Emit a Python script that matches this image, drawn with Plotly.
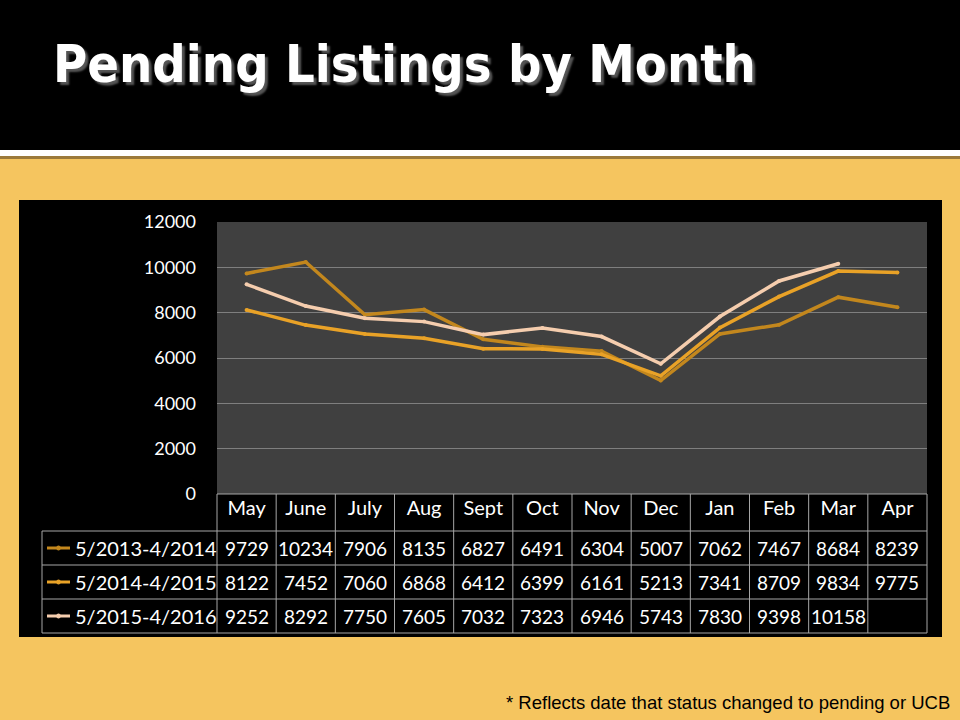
import plotly.graph_objects as go

W, H = 960, 720

months = ["May", "June", "July", "Aug", "Sept", "Oct", "Nov", "Dec", "Jan", "Feb", "Mar", "Apr"]
series_names = ["5/2013-4/2014", "5/2014-4/2015", "5/2015-4/2016"]
vals_2013 = [9729, 10234, 7906, 8135, 6827, 6491, 6304, 5007, 7062, 7467, 8684, 8239]
vals_2014 = [8122, 7452, 7060, 6868, 6412, 6399, 6161, 5213, 7341, 8709, 9834, 9775]
vals_2015 = [9252, 8292, 7750, 7605, 7032, 7323, 6946, 5743, 7830, 9398, 10158, None]
y_ticks = [0, 2000, 4000, 6000, 8000, 10000, 12000]

series = [vals_2013, vals_2014, vals_2015]
colors = ["#C3871D", "#E9A227", "#F5CDAE"]

GOLD = "#F5C55F"
GRID = "#A6A6A6"
FONT = "Lato"
TITLE_FONT = "DejaVu Sans Condensed, DejaVu Sans, sans-serif"


def px(x):
    return x / W


def py(y):
    return 1 - y / H


# plot area in pixels
PL, PR, PT, PB = 217, 927, 222, 494
# table rows (pixels)
row_edges = [494, 531, 565, 599, 633]
LABEL_LEFT = 42

fig = go.Figure()

for name, vals, c in zip(series_names, series, colors):
    fig.add_trace(
        go.Scatter(
            x=months,
            y=vals,
            mode="lines+markers",
            name=name,
            line=dict(color=c, width=3.5),
            marker=dict(color=c, size=4),
            connectgaps=False,
        )
    )

shapes = [
    # slide background
    dict(type="rect", xref="paper", yref="paper", x0=0, x1=1, y0=0, y1=1,
         fillcolor=GOLD, line_width=0, layer="below"),
    dict(type="rect", xref="paper", yref="paper", x0=0, x1=1, y0=py(159), y1=py(155),
         fillcolor="#9C7A3A", line_width=0, layer="below"),
    dict(type="rect", xref="paper", yref="paper", x0=0, x1=1, y0=py(156), y1=py(150),
         fillcolor="white", line_width=0, layer="below"),
    dict(type="rect", xref="paper", yref="paper", x0=0, x1=1, y0=py(150), y1=1,
         fillcolor="black", line_width=0, layer="below"),
    # chart box
    dict(type="rect", xref="paper", yref="paper", x0=px(19), x1=px(942), y0=py(637), y1=py(200),
         fillcolor="black", line_width=0, layer="below"),
    # plot area
    dict(type="rect", xref="x", yref="y", x0=-0.5, x1=11.5, y0=0, y1=12000,
         fillcolor="#404040", line_width=0, layer="below"),
]

# table grid
col_w = (PR - PL) / len(months)
for k in range(len(months) + 1):
    xk = PL + k * col_w
    shapes.append(dict(type="line", xref="paper", yref="paper", x0=px(xk), x1=px(xk),
                       y0=py(row_edges[0]), y1=py(row_edges[-1]),
                       line=dict(color=GRID, width=1)))
shapes.append(dict(type="line", xref="paper", yref="paper", x0=px(LABEL_LEFT), x1=px(LABEL_LEFT),
                   y0=py(row_edges[1]), y1=py(row_edges[-1]), line=dict(color=GRID, width=1)))
shapes.append(dict(type="line", xref="paper", yref="paper", x0=px(PL), x1=px(PR),
                   y0=py(row_edges[0]), y1=py(row_edges[0]), line=dict(color=GRID, width=1)))
for ye in row_edges[1:]:
    shapes.append(dict(type="line", xref="paper", yref="paper", x0=px(LABEL_LEFT), x1=px(PR),
                       y0=py(ye), y1=py(ye), line=dict(color=GRID, width=1)))

annotations = []
for i, (name, vals, c) in enumerate(zip(series_names, series, colors)):
    yc = (row_edges[i + 1] + row_edges[i + 2]) / 2
    # legend key
    shapes.append(dict(type="line", xref="paper", yref="paper", x0=px(47), x1=px(70),
                       y0=py(yc), y1=py(yc), line=dict(color=c, width=3)))
    shapes.append(dict(type="circle", xref="paper", yref="paper", x0=px(56.5), x1=px(60.5),
                       y0=py(yc + 2), y1=py(yc - 2), fillcolor=c, line=dict(color=c, width=1)))
    annotations.append(dict(text=name, xref="paper", yref="paper", x=px(73), y=py(yc),
                            xanchor="left", yanchor="middle", showarrow=False,
                            font=dict(family=FONT, size=20, color="white")))
    for m, v in zip(months, vals):
        if v is None:
            continue
        annotations.append(dict(text=str(v), xref="x", yref="paper", x=m, y=py(yc),
                                xanchor="center", yanchor="middle", showarrow=False,
                                font=dict(family=FONT, size=19, color="white")))

annotations.append(dict(text="<b>Pending Listings by Month</b>", xref="paper", yref="paper",
                        x=px(51), y=py(64), xanchor="left", yanchor="middle", showarrow=False,
                        font=dict(family=TITLE_FONT, size=52, color="white",
                                  shadow="3px 3px 2px #555555")))
annotations.append(dict(text="* Reflects date that status changed to pending or UCB",
                        xref="paper", yref="paper", x=px(952), y=py(702),
                        xanchor="right", yanchor="middle", showarrow=False,
                        font=dict(family="Liberation Sans", size=18.5, color="black")))

fig.update_layout(
    width=W,
    height=H,
    autosize=False,
    margin=dict(l=0, r=0, t=0, b=0, pad=0, autoexpand=False),
    paper_bgcolor=GOLD,
    plot_bgcolor="#404040",
    showlegend=False,
    hovermode=False,
    shapes=shapes,
    annotations=annotations,
    xaxis=dict(
        domain=[px(PL), px(PR)],
        type="category",
        categoryorder="array",
        categoryarray=months,
        range=[-0.5, 11.5],
        showgrid=False,
        zeroline=False,
        showline=False,
        ticks="",
        automargin=False,
        tickfont=dict(family=FONT, size=20, color="white"),
        fixedrange=True,
    ),
    yaxis=dict(
        domain=[py(PB), py(PT)],
        range=[0, 12000],
        tickvals=y_ticks,
        ticktext=[str(t) for t in y_ticks],
        showgrid=True,
        gridcolor="#7F7F7F",
        gridwidth=1,
        zeroline=False,
        showline=False,
        ticks="",
        automargin=False,
        ticklabelstandoff=20,
        tickfont=dict(family=FONT, size=18, color="white"),
        fixedrange=True,
    ),
)

fig.write_html(
    "out.html",
    config={"displayModeBar": False},
    post_script="document.body.style.margin='0';",
)
